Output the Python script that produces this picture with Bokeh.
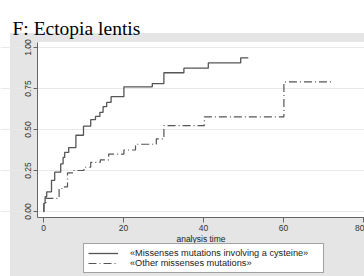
from bokeh.plotting import figure
from bokeh.models import Legend, LegendItem, FixedTicker, Range1d, NumeralTickFormatter, Label
from bokeh.embed import file_html
from bokeh.resources import INLINE

TITLE = "F: Ectopia lentis"
X_LABEL = "analysis time"
X_TICKS = [0, 20, 40, 60, 80]
Y_TICKS = [0, 0.25, 0.5, 0.75, 1.0]

label_cys = "«Missenses mutations involving a cysteine»"
t_cys = [0, 0.1, 0.4, 0.8, 2.0, 2.8, 4.3, 4.9, 5.3, 6.3, 8.1, 10.0, 11.8, 13.0, 14.1,
         14.9, 15.8, 16.9, 20.1, 27.2, 30.1, 35.1, 41.2, 49.3, 51.2]
v_cys = [0, 0.05, 0.09, 0.12, 0.19, 0.24, 0.29, 0.33, 0.36, 0.39, 0.465, 0.52, 0.56, 0.58, 0.605,
         0.64, 0.665, 0.70, 0.76, 0.78, 0.846, 0.874, 0.906, 0.937, 0.937]

label_oth = "«Other missenses mutations»"
t_oth = [0, 0.1, 0.6, 3.9, 4.6, 6.0, 7.6, 10.1, 11.8, 14.2, 16.3, 20.1, 23.0, 28.2, 30.1, 40.2, 60.1, 72.6]
v_oth = [0, 0.045, 0.08, 0.14, 0.15, 0.235, 0.25, 0.27, 0.30, 0.315, 0.35, 0.375, 0.41, 0.443, 0.524, 0.577, 0.79, 0.79]

# extents of the inner white plot area (axis ranges)
X_MIN, X_MAX = -1.5, 80.25
Y_MIN, Y_MAX = -0.0366, 1.0305

GRAY = "#e5e5e5"
LINE = "#555555"
FONT = "Liberation Sans"

p = figure(width=364, height=276, toolbar_location=None, output_backend="svg",
           x_range=Range1d(-10.75, 80.25), y_range=Range1d(-0.3963, 1.2866),
           min_border=0, border_fill_alpha=0, background_fill_alpha=0,
           outline_line_color=None)
p.title.visible = False
p.styles = {"background": "linear-gradient(#ffffff, #ffffff) 37px 42px / 327px 175px no-repeat, "
                          "linear-gradient(#ffffff, #ffffff) 0px 0px / 100% 33px no-repeat, "
                          "linear-gradient(#ffffff, #ffffff) 0px 0px / 10px 100% no-repeat, " + GRAY}

p.add_layout(Label(x=12, y=248, x_units="screen", y_units="screen", text=TITLE,
                   text_font="Liberation Serif", text_font_size="19.5px",
                   text_color="black", text_baseline="alphabetic"))

r1 = p.step(t_cys, v_cys, mode="after", line_color=LINE, line_width=1.3)
r2 = p.step(t_oth, v_oth, mode="after", line_color=LINE, line_width=1.2, line_dash="8 3 1 3")

p.xgrid.visible = False
p.ygrid.ticker = FixedTicker(ticks=Y_TICKS)
p.ygrid.grid_line_color = "#e9e9e9"
p.ygrid.grid_line_width = 1

for ax in (p.xaxis[0], p.yaxis[0]):
    ax.axis_line_color = "#666666"
    ax.major_tick_line_color = "#666666"
    ax.minor_tick_line_color = None
    ax.major_tick_in = 0
    ax.major_label_text_font = FONT
    ax.major_label_text_font_size = "8.5px"
    ax.major_label_text_color = "#333333"

p.xaxis.fixed_location = Y_MIN
p.xaxis.bounds = (X_MIN, X_MAX)
p.xaxis.ticker = FixedTicker(ticks=X_TICKS)
p.xaxis.major_tick_out = 5
p.xaxis.major_label_standoff = 2
p.xaxis.axis_label = X_LABEL
p.xaxis.axis_label_text_font = FONT
p.xaxis.axis_label_text_font_size = "8.5px"
p.xaxis.axis_label_text_font_style = "normal"
p.xaxis.axis_label_text_color = "#222222"
p.xaxis.axis_label_standoff = 0

p.yaxis.fixed_location = X_MIN
p.yaxis.bounds = (Y_MIN, Y_MAX)
p.yaxis.ticker = FixedTicker(ticks=Y_TICKS)
p.yaxis.formatter = NumeralTickFormatter(format="0.00")
p.yaxis.major_label_orientation = "vertical"
p.yaxis.major_tick_out = 4
p.yaxis.major_label_standoff = 2

legend = Legend(items=[LegendItem(label=label_cys, renderers=[r1]),
                       LegendItem(label=label_oth, renderers=[r2])],
                location=(83, 3), orientation="vertical",
                label_text_font=FONT, label_text_font_size="9.2px", label_text_color="#222222",
                glyph_width=30, glyph_height=8, label_height=8, label_width=189, spacing=0,
                padding=4, margin=0, label_standoff=12,
                border_line_color="#444444", border_line_width=1,
                background_fill_color="white", background_fill_alpha=1)
p.add_layout(legend)

open("out.html", "w").write(file_html(p, INLINE))
